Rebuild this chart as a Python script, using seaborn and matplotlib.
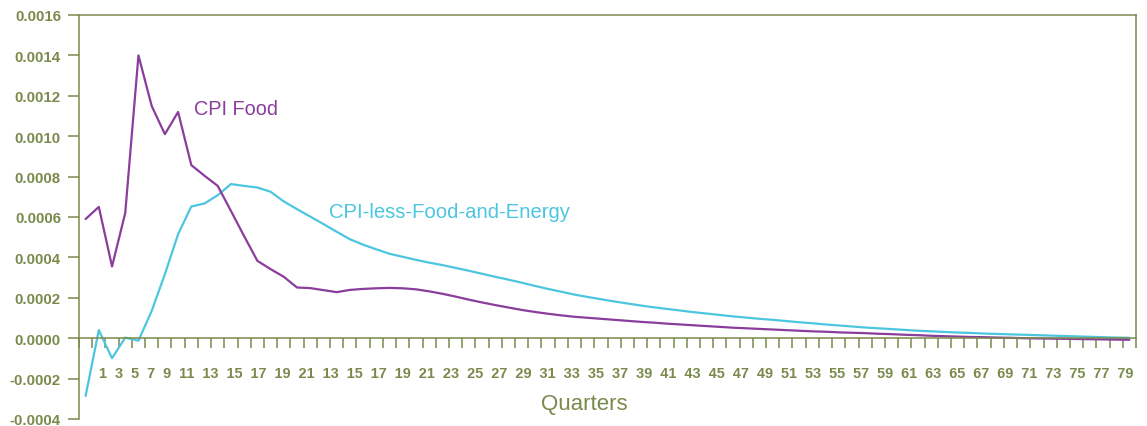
import numpy as np
import pandas as pd
import matplotlib
matplotlib.use("Agg")
import matplotlib.pyplot as plt
import seaborn as sns

# Impulse responses by quarter
quarters = list(range(80))

cpi_food = [
    0.000590, 0.000650, 0.000355, 0.000620, 0.001400, 0.001150, 0.001010, 0.001120,
    0.000857, 0.000804, 0.000754, 0.000630, 0.000505, 0.000383, 0.000342, 0.000304,
    0.000251, 0.000248, 0.000238, 0.000228, 0.000239, 0.000244, 0.000247, 0.000249,
    0.000247, 0.000242, 0.000232, 0.000220, 0.000206, 0.000191, 0.000177, 0.000164,
    0.000152, 0.000140, 0.000130, 0.000121, 0.000113, 0.000106, 0.000101, 0.000096,
    0.000091, 0.000086, 0.000081, 0.000077, 0.000072, 0.000068, 0.000064, 0.000060,
    0.000056, 0.000052, 0.000049, 0.000046, 0.000043, 0.000040, 0.000037, 0.000034,
    0.000032, 0.000029, 0.000027, 0.000025, 0.000022, 0.000020, 0.000017, 0.000015,
    0.000012, 0.000010, 0.000008, 0.000006, 0.000005, 0.000003, 0.000002, 0.000000,
    -0.000001, -0.000002, -0.000003, -0.000004, -0.000005, -0.000006, -0.000007, -0.000008,
]

cpi_core = [
    -0.000286, 0.000040, -0.000099, 0.000003, -0.000012, 0.000135, 0.000317, 0.000515,
    0.000652, 0.000667, 0.000708, 0.000763, 0.000754, 0.000746, 0.000725, 0.000677,
    0.000639, 0.000602, 0.000565, 0.000527, 0.000490, 0.000463, 0.000440, 0.000418,
    0.000403, 0.000388, 0.000374, 0.000362, 0.000348, 0.000334, 0.000319, 0.000304,
    0.000290, 0.000275, 0.000259, 0.000244, 0.000230, 0.000216, 0.000204, 0.000193,
    0.000182, 0.000172, 0.000162, 0.000153, 0.000145, 0.000137, 0.000129, 0.000122,
    0.000115, 0.000108, 0.000102, 0.000096, 0.000091, 0.000085, 0.000079, 0.000074,
    0.000068, 0.000063, 0.000058, 0.000053, 0.000049, 0.000045, 0.000041, 0.000037,
    0.000034, 0.000031, 0.000028, 0.000026, 0.000023, 0.000021, 0.000019, 0.000017,
    0.000015, 0.000013, 0.000011, 0.000009, 0.000007, 0.000005, 0.000003, 0.000002,
]

# Quarter labels as printed under the axis
quarter_labels = [str(q) for q in range(1, 22, 2)] + [str(q) for q in range(13, 80, 2)]

y_ticks = [-0.0004, -0.0002, 0.0, 0.0002, 0.0004, 0.0006, 0.0008, 0.0010, 0.0012, 0.0014, 0.0016]

OLIVE = "#7b8a4c"
PURPLE = "#8a3d9b"
CYAN = "#4cc6df"

sns.set_style("white")
plt.rcParams["font.family"] = ["Liberation Sans", "DejaVu Sans"]
plt.rcParams["axes.unicode_minus"] = False

df = pd.DataFrame({"quarter": quarters, "food": cpi_food, "core": cpi_core})

W, H = 1147, 427
fig = plt.figure(figsize=(W / 100, H / 100), dpi=100)
ax = fig.add_axes([79 / W, 1 - 420 / H, (1136 - 79) / W, (420 - 16) / H])

sns.lineplot(data=df, x="quarter", y="core", ax=ax, color=CYAN, linewidth=1.6)
sns.lineplot(data=df, x="quarter", y="food", ax=ax, color=PURPLE, linewidth=1.6)

ax.set_xlim(-0.5, 79.5)
ax.set_ylim(-0.0004, 0.0016)
ax.set_xlabel("")
ax.set_ylabel("")

# Spines: left full height, top full width, right down to zero, bottom as the zero line
for side in ["left", "top", "right", "bottom"]:
    ax.spines[side].set_color(OLIVE)
    ax.spines[side].set_linewidth(1.1)
    ax.spines[side].set_visible(True)
ax.spines["bottom"].set_position(("data", 0))
ax.spines["right"].set_bounds(0, 0.0016)

ax.set_yticks(y_ticks)
ax.set_yticklabels([f"{v:.4f}" for v in y_ticks])
ax.tick_params(axis="y", direction="out", length=8, width=1.1, color=OLIVE,
               labelcolor=OLIVE, labelsize=10.8, pad=5, left=True)
for lbl in ax.get_yticklabels():
    lbl.set_fontweight("bold")

# One tick at every quarter boundary, labels written out below
ax.set_xticks(np.arange(-0.5, 80, 1))
ax.set_xticklabels([])
ax.tick_params(axis="x", direction="out", length=7.2, width=1.1, color=OLIVE, bottom=True)

fig.text(99 / W, 1 - 378 / H, "  ".join(quarter_labels), ha="left", va="baseline",
         color=OLIVE, fontsize=10.45, fontweight="bold")
fig.text(584 / W, 1 - 410 / H, "Quarters", ha="center", va="baseline",
         color=OLIVE, fontsize=16)

ax.text(8.2, 0.00111, "CPI Food", color=PURPLE, fontsize=14.3, ha="left", va="baseline")
ax.text(18.4, 0.000599, "CPI-less-Food-and-Energy", color=CYAN, fontsize=14.6,
        ha="left", va="baseline")

fig.savefig("out.png", dpi=100)
